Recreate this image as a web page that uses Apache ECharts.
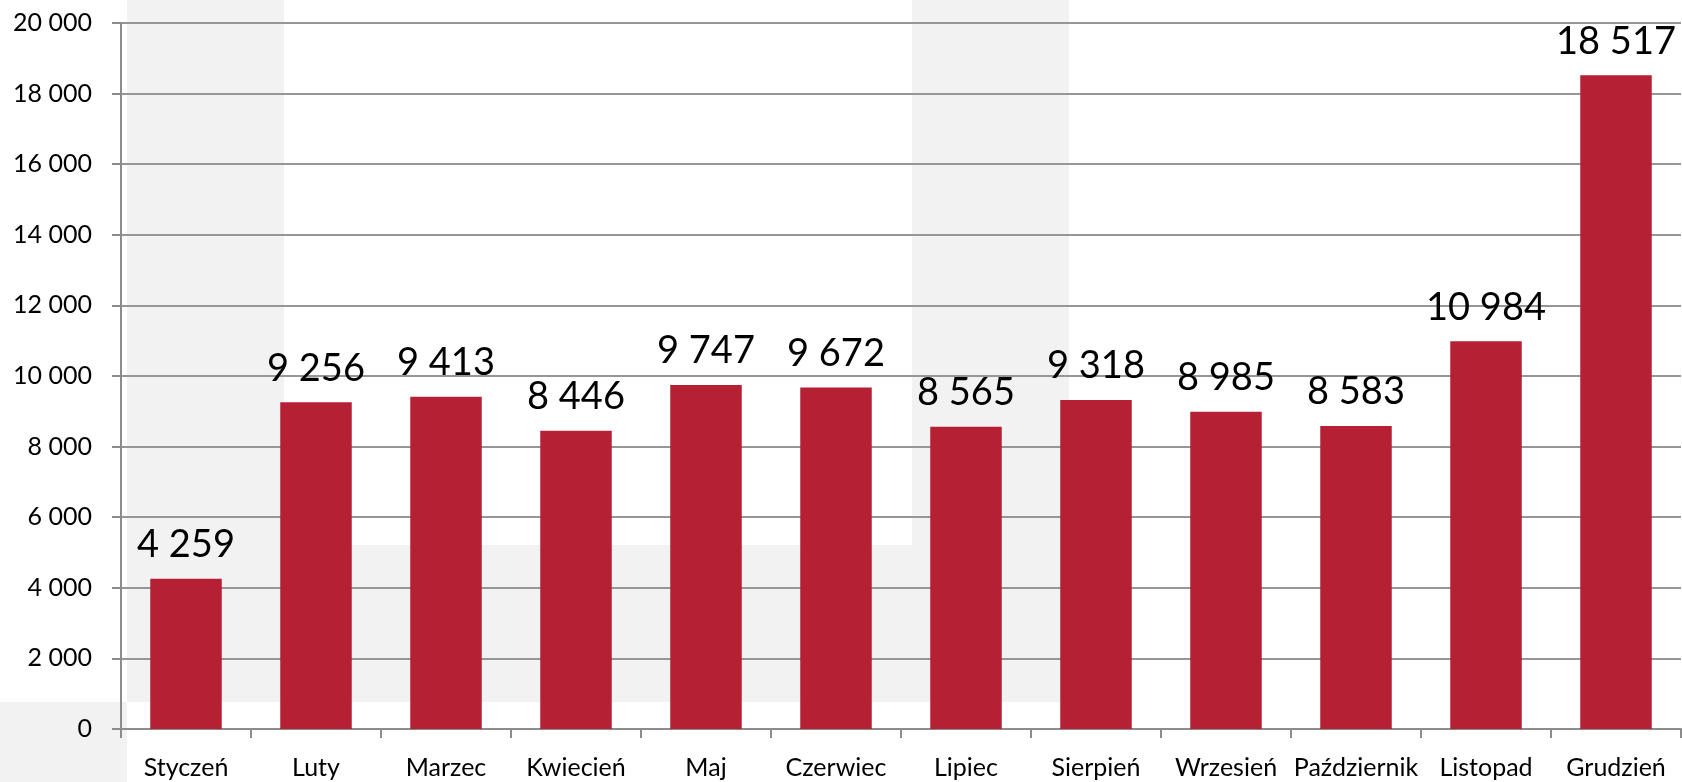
<!DOCTYPE html>
<html>
<head>
<meta charset="utf-8">
<script src="https://cdn.jsdelivr.net/npm/echarts@6/dist/echarts.min.js"></script>
<style>
html,body{margin:0;padding:0;background:#fff;}
#chart{width:1682px;height:782px;}
</style>
</head>
<body>
<div id="chart"></div>
<script>
var categories = ['Styczeń','Luty','Marzec','Kwiecień','Maj','Czerwiec','Lipiec','Sierpień','Wrzesień','Październik','Listopad','Grudzień'];
var values = [4259, 9256, 9413, 8446, 9747, 9672, 8565, 9318, 8985, 8583, 10984, 18517];
var yTicks = [0, 2000, 4000, 6000, 8000, 10000, 12000, 14000, 16000, 18000, 20000];

function fmt(v) {
  return String(v).replace(/\B(?=(\d{3})+(?!\d))/g, ' ');
}

var FONT = 'Lato';
var GREY_BG = '#f2f2f2';
var chart = echarts.init(document.getElementById('chart'), null, {renderer: 'canvas'});
chart.setOption({
  animation: false,
  backgroundColor: '#ffffff',
  graphic: [
    {type: 'rect', z: -10, shape: {x: 127, y: 0, width: 157, height: 702}, style: {fill: GREY_BG}},
    {type: 'rect', z: -10, shape: {x: 284, y: 545, width: 628, height: 157}, style: {fill: GREY_BG}},
    {type: 'rect', z: -10, shape: {x: 912, y: 0, width: 157, height: 702}, style: {fill: GREY_BG}},
    {type: 'rect', z: -10, shape: {x: 0, y: 702, width: 127, height: 80}, style: {fill: GREY_BG}}
  ],
  grid: {left: 121, right: 1, top: 23, bottom: 53, containLabel: false},
  xAxis: {
    type: 'category',
    data: categories,
    axisLine: {show: true, lineStyle: {color: '#8c8c8c', width: 2}},
    axisTick: {show: true, length: 9, lineStyle: {color: '#8c8c8c', width: 2}},
    axisLabel: {interval: 0, color: '#000', fontFamily: FONT, fontSize: 25, margin: 26}
  },
  yAxis: {
    type: 'value',
    min: yTicks[0],
    max: yTicks[yTicks.length - 1],
    interval: yTicks[1] - yTicks[0],
    axisLine: {show: true, lineStyle: {color: '#8c8c8c', width: 2}},
    axisTick: {show: true, length: 9, lineStyle: {color: '#8c8c8c', width: 2}},
    splitLine: {show: true, lineStyle: {color: '#969696', width: 2}},
    axisLabel: {color: '#000', fontFamily: FONT, fontSize: 25, margin: 29, formatter: function (v) { return fmt(v); }}
  },
  series: [{
    type: 'bar',
    data: values,
    barCategoryGap: '45%',
    itemStyle: {color: '#b52034'},
    label: {
      show: true,
      position: 'top',
      distance: 15,
      color: '#000',
      fontFamily: FONT,
      fontSize: 38,
      formatter: function (p) { return fmt(p.value); }
    }
  }]
});
</script>
</body>
</html>
